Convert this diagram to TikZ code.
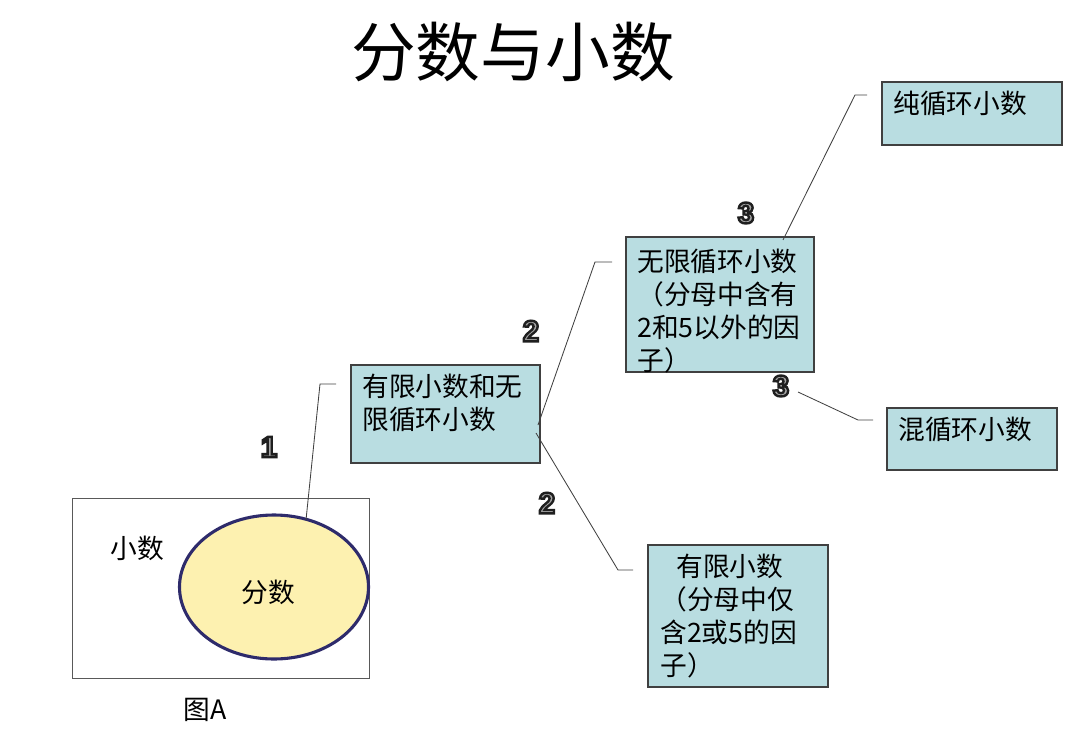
\documentclass[tikz,border=0pt]{standalone}
\usepackage{fontspec}
\setmainfont{Liberation Sans}
\newfontfamily\cjk{Noto Sans CJK SC}
\usetikzlibrary{calc,positioning,shapes.geometric}
\definecolor{boxcyan}{HTML}{B9DDE1}
\definecolor{ovalfill}{HTML}{FDF1B0}
\definecolor{ovalline}{HTML}{2E2B6B}
\newcommand{\px}{0.025cm}
% outlined digit: fill light grey, stroke dark
\newcommand{\stepnum}[1]{{\color{black!35}\special{pdf:literal direct 0.12 G 1.7 w 2 Tr}#1\special{pdf:literal direct 0 Tr}}}
\tikzset{
  num box/.style={draw=black!75,fill=boxcyan,line width=0.8pt,inner sep=0pt},
  box text/.style={anchor=north west,align=left,inner sep=0pt,font=\cjk\fontsize{19}{23.5}\selectfont},
  plain text/.style={inner sep=0pt,font=\cjk\fontsize{19}{23}\selectfont},
  call line/.style={draw=black!75,line width=0.6pt},
  step label/.style={inner sep=0pt,font=\fontsize{21}{24}\selectfont\bfseries},
}
\begin{document}
\begin{tikzpicture}[x=\px,y=-\px]
  \useasboundingbox (0,0) rectangle (1080,730);
  \node[inner sep=0pt,font=\cjk\fontsize{46}{50}\selectfont] (title) at (513,52) {分数与小数};
  % figure A
  \node[draw=black!65,line width=0.6pt,minimum width=297*\px,minimum height=180*\px] (setA) at (220.5,588) {};
  \node[ellipse,draw=ovalline,fill=ovalfill,line width=2.2pt,minimum width=189*\px,minimum height=144*\px,inner sep=0pt] (frac) at (274,587) {};
  \node[plain text] (fracname) at (268,592) {分数};
  \node[plain text] (decname) at (137,548) {小数};
  \node[plain text] (caption) at (205,710) {图A};
  % boxes
  \node[num box,minimum width=189*\px,minimum height=98*\px] (b1) at (445.5,414) {};
  \node[box text] (t1) at (362,374) {有限小数和无\\限循环小数};
  \node[num box,minimum width=188*\px,minimum height=135*\px] (b2) at (720,304.5) {};
  \node[box text] (t2) at (637,249) {无限循环小数\\（分母中含有\\2和5以外的因\\子）};
  \node[num box,minimum width=180*\px,minimum height=63*\px] (b3) at (972,113.5) {};
  \node[box text] (t3) at (893,91) {纯循环小数};
  \node[num box,minimum width=170*\px,minimum height=62*\px] (b4) at (972,439) {};
  \node[box text] (t4) at (898,417) {混循环小数};
  \node[num box,minimum width=180*\px,minimum height=142*\px] (b5) at (738,616) {};
  \node[box text] (t5) at (660,554) {\hspace{0.6em}有限小数\\（分母中仅\\含2或5的因\\子）};
  % connectors
  \coordinate (s1) at (306,520);
  \coordinate (k1) at (320,384);
  \coordinate (e1) at (336,384);
  \coordinate (s2) at (538,425);
  \coordinate (k2) at (595,262);
  \coordinate (e2) at (612,262);
  \coordinate (s3) at (536,433);
  \coordinate (k3) at (618,570);
  \coordinate (e3) at (633,570);
  \coordinate (s4) at (783,240);
  \coordinate (k4) at (855,95);
  \coordinate (e4) at (867,95);
  \coordinate (s5) at (798,392);
  \coordinate (k5) at (858,420);
  \coordinate (e5) at (873,420);
  \foreach \i in {1,...,5}{
    \draw[call line] (s\i) -- (k\i) -- (e\i);
  }
  % step numbers
  \foreach \i/\x/\y/\n in {1/269/447/1,2/531/331/2,3/547/503/2,4/746/213/3,5/781/386/3}{
    \node[step label] (n\i) at (\x,\y) {\stepnum{\n}};
  }
\end{tikzpicture}
\end{document}
